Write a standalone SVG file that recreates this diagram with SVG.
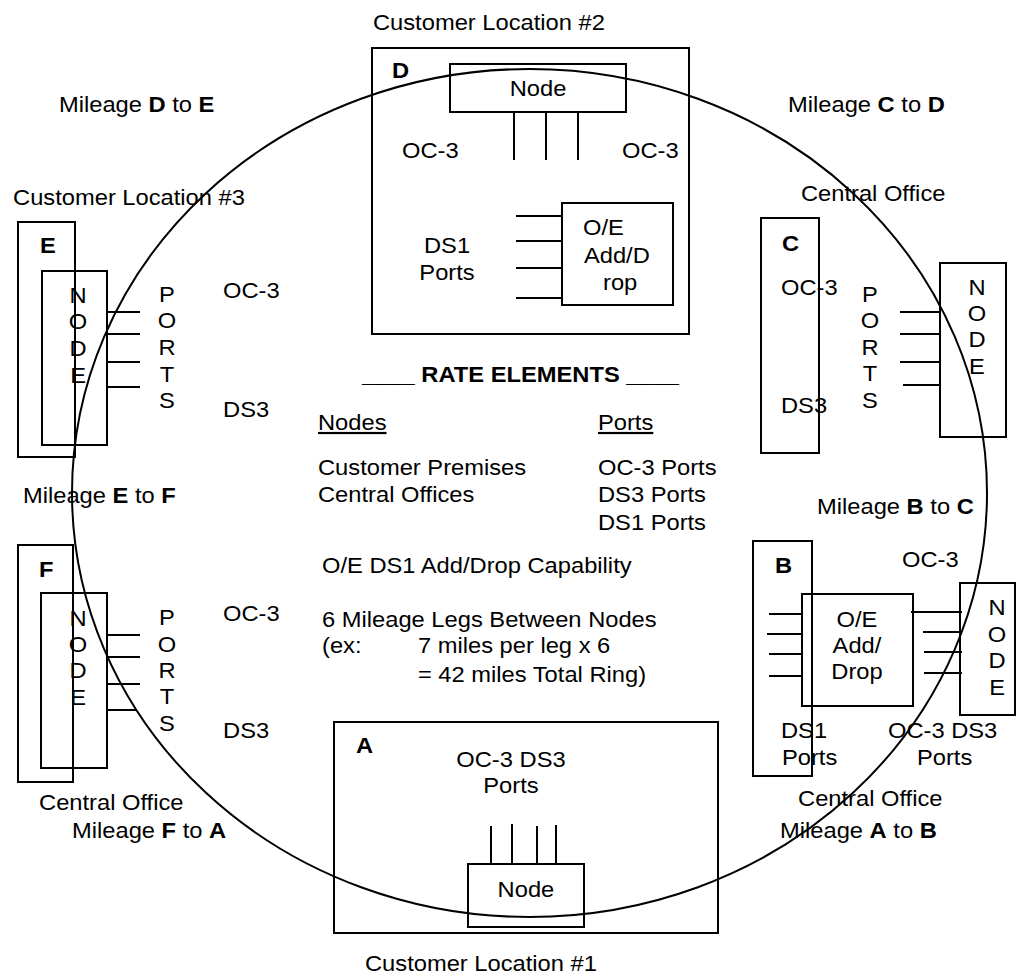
<svg xmlns="http://www.w3.org/2000/svg" width="1018" height="979" viewBox="0 0 1018 979">
<style>
rect, line, ellipse { fill: none; stroke: #000; stroke-width: 2; }
text { font-family: "Liberation Sans", Arial, sans-serif; font-size: 22px; fill: #000; }
.b { font-weight: bold; }
.m { text-anchor: middle; }
.u { text-decoration: underline; }
</style>
<rect x="0" y="0" width="1018" height="979" style="fill:#fff;stroke:none"/>
<g id="connectors">
  <ellipse cx="529.5" cy="493" rx="457.5" ry="424"/>
</g>
<g id="node-D">
  <rect x="372" y="48" width="317" height="286"/>
  <rect x="450" y="64" width="176" height="48"/>
  <line x1="514" y1="112" x2="514" y2="160"/>
  <line x1="546" y1="112" x2="546" y2="160"/>
  <line x1="578" y1="112" x2="578" y2="160"/>
  <rect x="562" y="203" width="111" height="102"/>
  <line x1="516" y1="216" x2="562" y2="216"/>
  <line x1="516" y1="241" x2="562" y2="241"/>
  <line x1="516" y1="268" x2="562" y2="268"/>
  <line x1="516" y1="298" x2="562" y2="298"/>
</g>
<g id="node-E">
  <rect x="18" y="222" width="57" height="235"/>
  <rect x="42" y="271" width="65" height="174"/>
  <line x1="107" y1="312" x2="140" y2="312"/>
  <line x1="107" y1="334" x2="140" y2="334"/>
  <line x1="107" y1="362" x2="140" y2="362"/>
  <line x1="107" y1="387" x2="140" y2="387"/>
</g>
<g id="node-F">
  <rect x="18" y="545" width="55" height="237"/>
  <rect x="41" y="593" width="66" height="175"/>
  <line x1="107" y1="635" x2="140" y2="635"/>
  <line x1="107" y1="657" x2="140" y2="657"/>
  <line x1="107" y1="684" x2="140" y2="684"/>
  <line x1="107" y1="710" x2="137" y2="710"/>
</g>
<g id="node-C">
  <rect x="761" y="218" width="58" height="235"/>
  <rect x="940" y="263" width="66" height="174"/>
  <line x1="900" y1="312" x2="940" y2="312"/>
  <line x1="900" y1="334" x2="940" y2="334"/>
  <line x1="900" y1="362" x2="940" y2="362"/>
  <line x1="903" y1="385" x2="940" y2="385"/>
</g>
<g id="node-B">
  <rect x="753" y="541" width="59" height="235"/>
  <rect x="802" y="594" width="111" height="112"/>
  <rect x="960" y="583" width="55" height="132"/>
  <line x1="769" y1="614" x2="802" y2="614"/>
  <line x1="767" y1="634" x2="802" y2="634"/>
  <line x1="769" y1="654" x2="802" y2="654"/>
  <line x1="769" y1="676" x2="802" y2="676"/>
  <line x1="911" y1="612" x2="962" y2="612"/>
  <line x1="923" y1="632" x2="962" y2="632"/>
  <line x1="924" y1="652" x2="962" y2="652"/>
  <line x1="924" y1="673" x2="962" y2="673"/>
</g>
<g id="node-A">
  <rect x="334" y="722" width="384" height="211"/>
  <rect x="468" y="864" width="116" height="63"/>
  <line x1="491" y1="826" x2="491" y2="864"/>
  <line x1="512" y1="824" x2="512" y2="864"/>
  <line x1="537" y1="826" x2="537" y2="864"/>
  <line x1="556" y1="825" x2="556" y2="864"/>
</g>
<g id="labels" transform="scale(1.078 1)">
  <text x="346" y="30">Customer Location #2</text>
  <text x="54.7" y="112">Mileage <tspan class="b">D</tspan> to <tspan class="b">E</tspan></text>
  <text x="731" y="112">Mileage <tspan class="b">C</tspan> to <tspan class="b">D</tspan></text>
  <text x="12.1" y="205">Customer Location #3</text>
  <text x="743" y="201">Central Office</text>
  <text x="21.3" y="503">Mileage <tspan class="b">E</tspan> to <tspan class="b">F</tspan></text>
  <text x="757.9" y="514">Mileage <tspan class="b">B</tspan> to <tspan class="b">C</tspan></text>
  <text x="36.2" y="810">Central Office</text>
  <text x="740.3" y="806">Central Office</text>
  <text x="66.8" y="838">Mileage <tspan class="b">F</tspan> to <tspan class="b">A</tspan></text>
  <text x="723.6" y="838">Mileage <tspan class="b">A</tspan> to <tspan class="b">B</tspan></text>
  <text x="338.6" y="971">Customer Location #1</text>

  <text class="b" x="363.6" y="78">D</text>
  <text class="m" x="499.1" y="96">Node</text>
  <text x="372.9" y="158">OC-3</text>
  <text x="577" y="158">OC-3</text>
  <text class="m" x="414.7" y="253">DS1</text>
  <text class="m" x="414.7" y="280">Ports</text>
  <text x="540.8" y="235">O/E</text>
  <text x="541.7" y="263">Add/D</text>
  <text x="559.4" y="290">rop</text>

  <text class="b" x="37.1" y="253">E</text>
  <text class="m" x="72.4" y="303">N</text>
  <text class="m" x="72.4" y="329">O</text>
  <text class="m" x="72.4" y="356">D</text>
  <text class="m" x="72.4" y="383">E</text>
  <text class="m" x="154.9" y="302">P</text>
  <text class="m" x="154.9" y="328">O</text>
  <text class="m" x="154.9" y="355">R</text>
  <text class="m" x="154.9" y="382">T</text>
  <text class="m" x="154.9" y="408">S</text>
  <text x="206.9" y="298">OC-3</text>
  <text x="206.9" y="417">DS3</text>

  <text class="b" x="36.2" y="577">F</text>
  <text class="m" x="72.4" y="626">N</text>
  <text class="m" x="72.4" y="652">O</text>
  <text class="m" x="72.4" y="678">D</text>
  <text class="m" x="72.4" y="705">E</text>
  <text class="m" x="154.9" y="625">P</text>
  <text class="m" x="154.9" y="652">O</text>
  <text class="m" x="154.9" y="678">R</text>
  <text class="m" x="154.9" y="704">T</text>
  <text class="m" x="154.9" y="731">S</text>
  <text x="206.9" y="621">OC-3</text>
  <text x="206.9" y="738">DS3</text>

  <text class="b" x="725.4" y="251">C</text>
  <text x="724.5" y="295">OC-3</text>
  <text x="724.5" y="413">DS3</text>
  <text class="m" x="807" y="302">P</text>
  <text class="m" x="807" y="328">O</text>
  <text class="m" x="807" y="355">R</text>
  <text class="m" x="807" y="381">T</text>
  <text class="m" x="807" y="408">S</text>
  <text class="m" x="906.3" y="295">N</text>
  <text class="m" x="906.3" y="321">O</text>
  <text class="m" x="906.3" y="347">D</text>
  <text class="m" x="906.3" y="374">E</text>

  <text class="b" x="718.9" y="573">B</text>
  <text x="836.7" y="567">OC-3</text>
  <text class="m" x="795" y="627">O/E</text>
  <text class="m" x="795" y="653">Add/</text>
  <text class="m" x="795" y="679">Drop</text>
  <text class="m" x="924.9" y="615">N</text>
  <text class="m" x="924.9" y="642">O</text>
  <text class="m" x="924.9" y="668">D</text>
  <text class="m" x="924.9" y="695">E</text>
  <text x="724.5" y="738">DS1</text>
  <text x="725.4" y="765">Ports</text>
  <text x="823.7" y="738">OC-3 DS3</text>
  <text x="850.6" y="765">Ports</text>

  <text class="b" x="330.2" y="753">A</text>
  <text class="m" x="474" y="767">OC-3 DS3</text>
  <text class="m" x="474" y="793">Ports</text>
  <text class="m" x="487.9" y="897">Node</text>

  <text class="b" x="335.8" y="382">____ RATE ELEMENTS ____</text>
  <text class="u" x="295" y="430">Nodes</text>
  <text class="u" x="554.7" y="430">Ports</text>
  <text x="295" y="475">Customer Premises</text>
  <text x="295" y="502">Central Offices</text>
  <text x="554.7" y="475">OC-3 Ports</text>
  <text x="554.7" y="502">DS3 Ports</text>
  <text x="554.7" y="530">DS1 Ports</text>
  <text x="298.7" y="573">O/E DS1 Add/Drop Capability</text>
  <text x="298.7" y="627">6 Mileage Legs Between Nodes</text>
  <text x="298.7" y="653">(ex:</text>
  <text x="387.7" y="653">7 miles per leg x 6</text>
  <text x="387.7" y="682">= 42 miles Total Ring)</text>
</g>
</svg>
